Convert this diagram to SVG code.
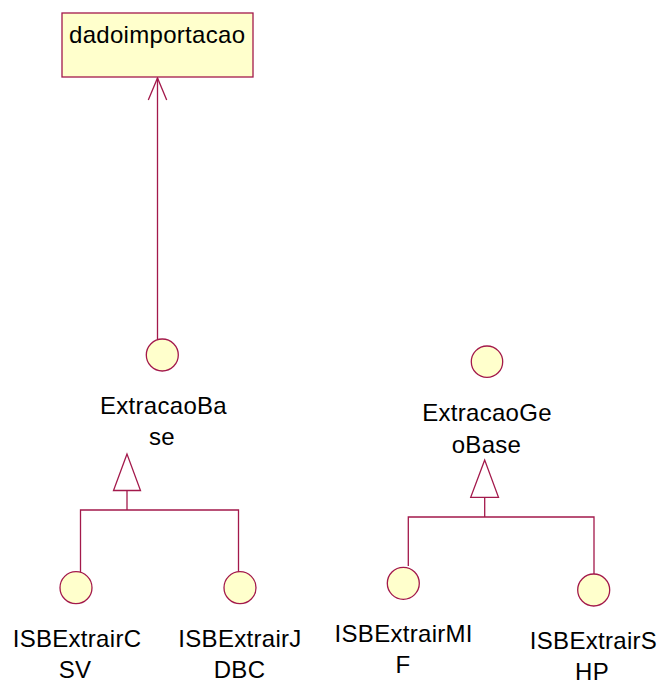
<svg xmlns="http://www.w3.org/2000/svg" width="662" height="682" viewBox="0 0 662 682">
  <style>
    .cls { fill: #FFFFCC; stroke: #A3194B; stroke-width: 1.3; }
    .ifc { fill: #FFFFCC; stroke: #A3194B; stroke-width: 1.3; }
    .lbl { font-family: "Liberation Sans", Arial, sans-serif; font-size: 24px; fill: #000; text-anchor: middle; letter-spacing: 0.3px; }
    .edge { fill: none; stroke: #A3194B; stroke-width: 1.3; }
    .gen { fill: #FFFFFF; stroke: #A3194B; stroke-width: 1.3; }
  </style>
  <rect width="662" height="682" fill="#FFFFFF"/>

  <!-- connectors -->
  <g id="connectors">
    <!-- dependency: ExtracaoBase to dadoimportacao -->
    <line class="edge" x1="157.5" y1="339" x2="157.5" y2="78"/>
    <polyline class="edge" points="148.3,100 157.5,78 166.7,100"/>

    <!-- realisation tree under ExtracaoBase -->
    <polyline class="edge" points="80.5,572 80.5,510 238.5,510 238.5,572"/>
    <line class="edge" x1="127" y1="510" x2="127" y2="490.5"/>
    <polygon class="gen" points="127,454 113.5,490.5 140.5,490.5"/>

    <!-- realisation tree under ExtracaoGeoBase -->
    <polyline class="edge" points="408.3,566 408.3,517 594,517 594,574"/>
    <line class="edge" x1="484.7" y1="517" x2="484.7" y2="497.3"/>
    <polygon class="gen" points="484.7,460 470.7,497.3 498.5,497.3"/>
  </g>

  <g id="dadoimportacao">
    <rect class="cls" x="62" y="13" width="191" height="64"/>
    <text class="lbl" x="69" y="43" style="text-anchor:start">dadoimportacao</text>
  </g>

  <g id="ExtracaoBase">
    <circle class="ifc" cx="162.3" cy="355" r="16"/>
    <text class="lbl" x="163.5" y="414">ExtracaoBa</text>
    <text class="lbl" x="162" y="445">se</text>
  </g>

  <g id="ExtracaoGeoBase">
    <circle class="ifc" cx="487" cy="361.7" r="15.7"/>
    <text class="lbl" x="487" y="420.7">ExtracaoGe</text>
    <text class="lbl" x="486.5" y="452.7">oBase</text>
  </g>

  <g id="ISBExtrairCSV">
    <circle class="ifc" cx="76" cy="587.7" r="16"/>
    <text class="lbl" x="77" y="646.7">ISBExtrairC</text>
    <text class="lbl" x="75" y="678">SV</text>
  </g>

  <g id="ISBExtrairJDBC">
    <circle class="ifc" cx="240" cy="587.7" r="16"/>
    <text class="lbl" x="240" y="646.7">ISBExtrairJ</text>
    <text class="lbl" x="239.5" y="678">DBC</text>
  </g>

  <g id="ISBExtrairMIF">
    <circle class="ifc" cx="403.3" cy="583.3" r="16"/>
    <text class="lbl" x="403.7" y="641.7">ISBExtrairMI</text>
    <text class="lbl" x="403" y="672.7">F</text>
  </g>

  <g id="ISBExtrairSHP">
    <circle class="ifc" cx="593.7" cy="590" r="16"/>
    <text class="lbl" x="593.5" y="649">ISBExtrairS</text>
    <text class="lbl" x="592" y="680">HP</text>
  </g>
</svg>
